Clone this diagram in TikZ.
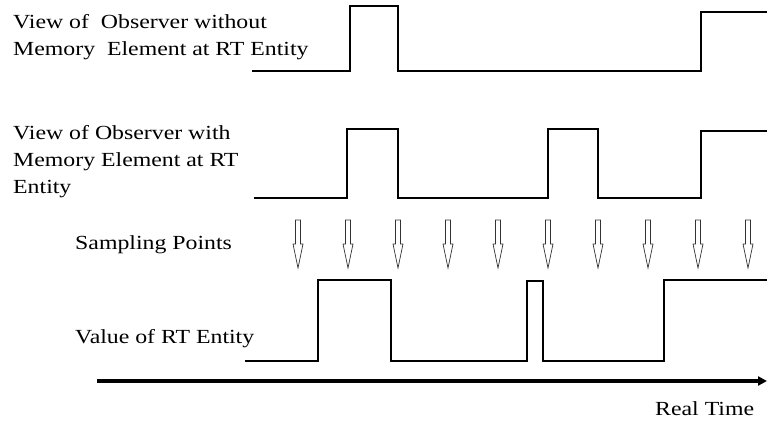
\documentclass[tikz,border=0pt]{standalone}
\usepackage{fontspec}
\setmainfont{Liberation Serif}[FakeStretch=1.19]
\usetikzlibrary{arrows.meta}
\begin{document}
\begin{tikzpicture}[x=1pt,y=-1pt,
  lbl/.style={anchor=base west,inner sep=0pt,font=\fontsize{20}{27}\selectfont},
  wave/.style={line width=1.2pt,line join=miter},
  samparrow/.style={draw=black!80,fill=white,line width=0.7pt}]
\useasboundingbox (0,0) rectangle (767,421);
% labels
\node[lbl] (l1a) at (13,28) {View of\ \ Observer without};
\node[lbl] (l1b) at (13,55) {Memory\ \ Element at RT Entity};
\node[lbl] (l2a) at (13,139) {View of Observer with};
\node[lbl] (l2b) at (13,166) {Memory Element at RT};
\node[lbl] (l2c) at (13,193) {Entity};
\node[lbl] (l3) at (75,249) {Sampling Points};
\node[lbl] (l4) at (75,343) {Value of RT Entity};
\node[lbl] (l5) at (655,415) {Real Time};
% waveforms
\draw[wave] (252,71) -- (350,71) -- (350,6) -- (398,6) -- (398,71) -- (701,71) -- (701,12) -- (767,12);
\draw[wave] (254,198) -- (347,198) -- (347,129) -- (398,129) -- (398,198) -- (548,198) -- (548,129) -- (598,129) -- (598,198) -- (701,198) -- (701,131) -- (767,131);
\draw[wave] (245,361) -- (318,361) -- (318,280) -- (391,280) -- (391,361) -- (527,361) -- (527,281) -- (543,281) -- (543,361) -- (664,361) -- (664,280) -- (767,280);
% sampling arrows
\foreach \i in {0,...,9}{
  \pgfmathsetmacro{\xx}{298+50*\i}
  \draw[samparrow] (\xx-2.5,220) -- (\xx+2.5,220) -- (\xx+2.5,244) -- (\xx+5,244) -- (\xx,268) -- (\xx-5,244) -- (\xx-2.5,244) -- cycle;
}
% time axis
\coordinate (t0) at (97,381);
\coordinate (t1) at (767,381);
\draw[line width=3.2pt,-{Triangle[length=9pt,width=9pt]}] (t0) -- (t1);
\end{tikzpicture}
\end{document}
